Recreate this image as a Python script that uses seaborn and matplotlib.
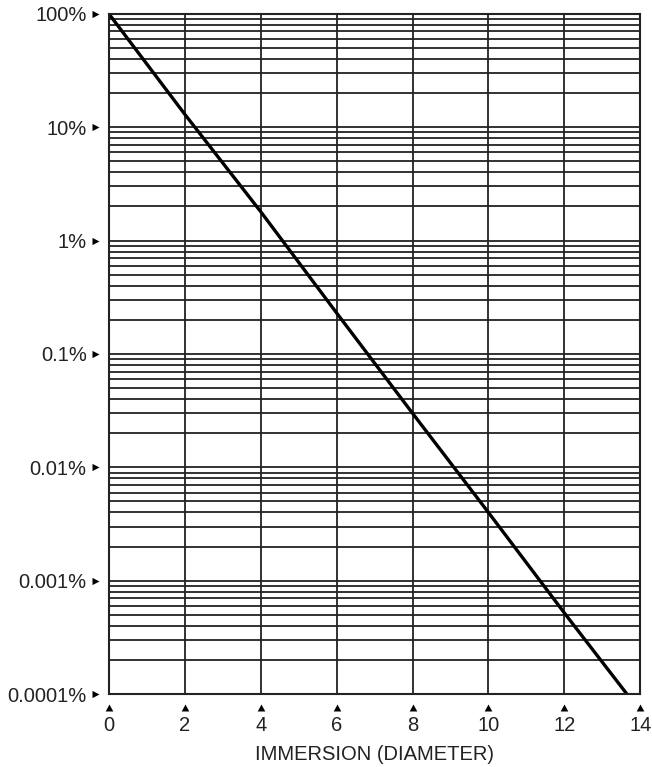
import numpy as np
import pandas as pd
import seaborn as sns
import matplotlib
matplotlib.use("Agg")
import matplotlib.pyplot as plt
from matplotlib.path import Path
from matplotlib.ticker import LogLocator, NullFormatter

# values (fraction remaining vs immersion depth)
immersion = [0, 2, 4, 6, 8, 10, 12, 13.65]
remaining = [1.0, 0.13, 0.018, 0.0023, 0.0003, 0.00004, 0.0000052, 0.000001]

x_ticks = [0, 2, 4, 6, 8, 10, 12, 14]
y_ticks = [1e-6, 1e-5, 1e-4, 1e-3, 1e-2, 1e-1, 1]
y_labels = ["0.0001%", "0.001%", "0.01%", "0.1%", "1%", "10%", "100%"]

sns.set_style("white")
plt.rcParams["font.family"] = ["Liberation Sans", "DejaVu Sans"]

df = pd.DataFrame({"immersion": immersion, "remaining": remaining})

fig = plt.figure(figsize=(6.52, 7.67), dpi=100)
ax = fig.add_axes([0.167, 0.095, 0.815, 0.887])

sns.lineplot(data=df, x="immersion", y="remaining", color="black", linewidth=2.4, ax=ax)

ax.set_yscale("log")
ax.set_xlim(0, 14)
ax.set_ylim(1e-6, 1)
ax.set_xticks(x_ticks)
ax.set_xticklabels([str(v) for v in x_ticks])
ax.set_yticks(y_ticks)
ax.set_yticklabels(y_labels)
ax.yaxis.set_minor_locator(LogLocator(base=10, subs=np.arange(2, 10)))
ax.yaxis.set_minor_formatter(NullFormatter())

ax.grid(True, which="major", axis="both", color="#222222", linewidth=1.3)
ax.grid(True, which="minor", axis="y", color="#222222", linewidth=1.3)

ax.tick_params(axis="both", which="major", length=0, labelsize=14.5, labelcolor="#222222",
               color="black", pad=16, bottom=True, left=True)
ax.tick_params(axis="y", which="minor", length=0, left=False)

for s in ax.spines.values():
    s.set_color("#222222")
    s.set_linewidth(1.5)

# small triangle markers used as tick marks (offset away from the spine)
tri_right = Path([(-17, -3.6), (-10, 0), (-17, 3.6), (-17, -3.6)],
                 [Path.MOVETO, Path.LINETO, Path.LINETO, Path.CLOSEPOLY])
tri_up = Path([(-3.8, -17), (0, -10), (3.8, -17), (-3.8, -17)],
              [Path.MOVETO, Path.LINETO, Path.LINETO, Path.CLOSEPOLY])
msize = 34 / 1.389
for t in ax.yaxis.get_major_ticks():
    t.tick1line.set_visible(True)
    t.tick1line.set_marker(tri_right)
    t.tick1line.set_markersize(msize)
    t.tick1line.set_markerfacecolor("black")
    t.tick1line.set_markeredgewidth(0)
for t in ax.xaxis.get_major_ticks():
    t.tick1line.set_visible(True)
    t.tick1line.set_marker(tri_up)
    t.tick1line.set_markersize(msize)
    t.tick1line.set_markerfacecolor("black")
    t.tick1line.set_markeredgewidth(0)

ax.set_ylabel("")
ax.set_xlabel("IMMERSION (DIAMETER)", fontsize=14.5, color="#222222", labelpad=7)

fig.savefig("out.png", dpi=100)
